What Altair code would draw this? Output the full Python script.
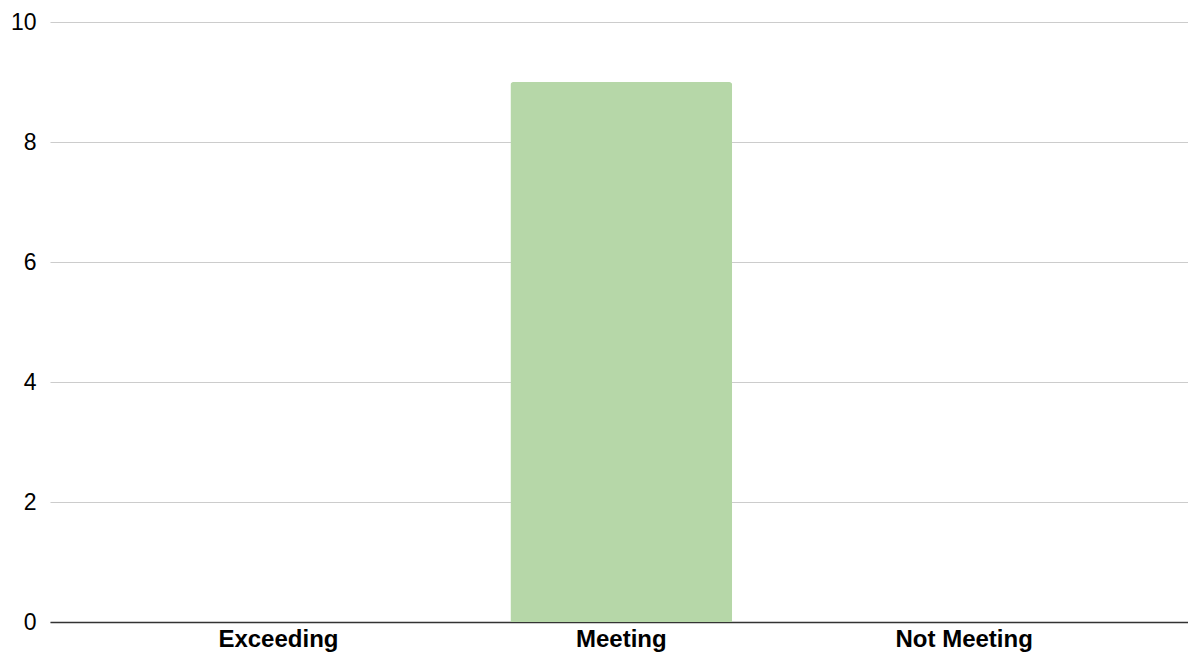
import altair as alt
import pandas as pd

categories = ["Exceeding", "Meeting", "Not Meeting"]
values = [0, 9, 0]

df = pd.DataFrame({"category": categories, "value": values})

chart = alt.Chart(df).mark_bar(
    color="#b6d7a8", cornerRadiusTopLeft=3, cornerRadiusTopRight=3
).encode(
    x=alt.X("category:N", sort=categories, title=None,
            scale=alt.Scale(paddingInner=0.353, paddingOuter=0.336, align=0.51),
            axis=alt.Axis(labelAngle=0, labelFont="Liberation Sans", labelFontSize=24,
                          labelFontWeight="bold", labelColor="#000000", ticks=False,
                          labelPadding=5, domainColor="#333333", domainWidth=1.5)),
    y=alt.Y("value:Q", title=None,
            scale=alt.Scale(domain=[0, 10]),
            axis=alt.Axis(values=[0, 2, 4, 6, 8, 10], labelFont="Liberation Sans",
                          labelFontSize=23, labelColor="#000000", ticks=False,
                          domain=False, labelPadding=14, gridColor="#cccccc",
                          gridWidth=1.2)),
).properties(
    width=1138, height=600,
    padding={"left": 42, "top": 14, "right": 0, "bottom": 31},
    autosize=alt.AutoSizeParams(type="none"),
).configure_view(stroke=None)

chart.save("out.html", embed_options={"renderer": "svg", "actions": False})
